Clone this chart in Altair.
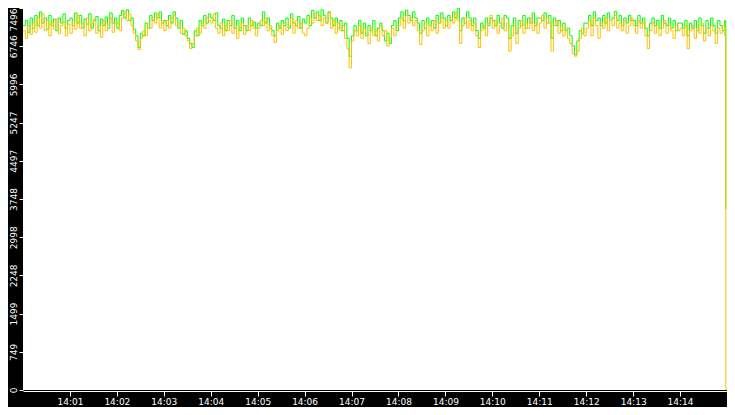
import altair as alt
import pandas as pd

# readings every 3 seconds from 14:00:00 (one row per minute)
orange_vals = [
    7050, 6900, 7150, 6980, 7200, 7020, 7300, 7100, 7380, 7050, 7250, 6950, 7200, 7080, 7280, 6990, 7150, 7220, 6950, 7180,
    7000, 7250, 7080, 7350, 7100, 7200, 6950, 7300, 7050, 7200, 7280, 7000, 7150, 6920, 7250, 7050, 7180, 7300, 7020, 7200,
    7200, 7050, 7300, 7420, 7250, 7380, 7150, 7000, 6850, 6680, 6900, 7050, 6950, 7200, 7100, 7300, 7200, 7380, 7100, 7250,
    7050, 7250, 7100, 7300, 7350, 7150, 7200, 7000, 7100, 6950, 6850, 6700, 6800, 6950, 7100, 7000, 7200, 7100, 7300, 7250,
    7200, 7380, 7100, 7000, 7200, 6950, 7150, 7050, 7250, 7000, 7150, 6900, 7100, 7200, 6980, 7150, 7050, 7250, 7100, 6950,
    7100, 7250, 7150, 7300, 7050, 7150, 6950, 6820, 7050, 7150, 6980, 7200, 7050, 7150, 7300, 7000, 7250, 7100, 7200, 7000,
    6950, 7100, 7300, 7200, 7380, 7250, 7350, 7150, 7300, 7200, 7400, 7100, 7250, 7000, 7200, 7050, 7150, 6900, 6700, 6320,
    6850, 7050, 6950, 7150, 6900, 7100, 7000, 6800, 7100, 6950, 7050, 6850, 7150, 6950, 7050, 6750, 6900, 7100, 6950, 7150,
    7150, 7300, 7100, 7350, 7200, 7300, 7150, 7250, 7050, 6780, 7050, 7200, 6950, 7150, 7050, 7250, 7000, 7200, 7300, 7100,
    7250, 7100, 7300, 7200, 7400, 7250, 6800, 7150, 7300, 7100, 7250, 7050, 7200, 6950, 6720, 7050, 7150, 6950, 7200, 7350,
    7100, 7250, 7000, 7150, 7300, 7050, 7200, 6650, 6950, 7150, 6800, 7100, 7250, 7000, 7200, 7100, 7300, 7050, 7200, 7000,
    7200, 7350, 7100, 7300, 7200, 6650, 7150, 7250, 7000, 7150, 6950, 7100, 6900, 6800, 6600, 6550, 6650, 6900, 7100, 6950,
    7100, 7250, 6950, 7300, 7150, 6900, 7200, 7100, 7300, 7050, 7250, 7150, 7350, 7100, 7200, 7050, 7250, 7000, 7150, 7300,
    7150, 7000, 7250, 7100, 7200, 6950, 6700, 7050, 7200, 7000, 7150, 6950, 7100, 7250, 7000, 7150, 7050, 6900, 7150, 7050,
    7100, 6950, 7150, 6700, 7050, 7150, 6900, 7100, 7000, 7200, 6850, 7100, 6950, 7150, 7050, 6800, 7100, 7000, 7150, 6950,
]
green_vals = [
    7150, 7250, 7020, 7300, 7100, 7350, 7150, 7420, 7200, 7300, 7080, 7350, 7150, 7280, 7050, 7300, 7200, 7380, 7100, 7250,
    7300, 7150, 7400, 7200, 7350, 7100, 7280, 7180, 7380, 7100, 7250, 7330, 7050, 7280, 7150, 7320, 7100, 7400, 7200, 7300,
    7100, 7350, 7450, 7300, 7460, 7250, 7300, 7080, 6950, 6720, 7000, 6950, 7200, 7100, 7350, 7250, 7400, 7300, 7420, 7200,
    7250, 7150, 7350, 7200, 7420, 7300, 7100, 7250, 6980, 7050, 6900, 6800, 6720, 7050, 6950, 7250, 7150, 7350, 7200, 7380,
    7300, 7250, 7400, 7150, 7100, 7280, 7050, 7250, 7150, 7350, 7100, 7250, 7050, 7300, 7150, 7050, 7300, 7150, 7220, 7100,
    7200, 7150, 7420, 7200, 7300, 7100, 7050, 6950, 7200, 7100, 7250, 7150, 7300, 7100, 7380, 7200, 7150, 7330, 7100, 7280,
    7200, 7350, 7150, 7450, 7300, 7420, 7250, 7460, 7350, 7200, 7420, 7300, 7150, 7300, 7100, 7250, 7050, 7200, 6900, 6550,
    6950, 7150, 7050, 7250, 7000, 7200, 6950, 7150, 7050, 7250, 6950, 7100, 7200, 7050, 6850, 7000, 6800, 7150, 7250, 7050,
    7300, 7420, 7250, 7450, 7350, 7250, 7420, 7300, 7200, 7000, 7250, 7100, 7300, 7150, 7250, 7100, 7350, 7200, 7400, 7300,
    7150, 7350, 7250, 7420, 7300, 7490, 7050, 7300, 7200, 7420, 7300, 7150, 7300, 7050, 6900, 7200, 7100, 7300, 7150, 7300,
    7250, 7150, 7350, 7200, 7100, 7350, 7300, 6900, 7150, 7300, 7000, 7250, 7150, 7350, 7100, 7300, 7200, 7400, 7150, 7300,
    7300, 7250, 7400, 7200, 7350, 6900, 7300, 7150, 7250, 7050, 7200, 7050, 7100, 6950, 6750, 6580, 6850, 7050, 7000, 7200,
    7200, 7350, 7150, 7420, 7250, 7300, 7150, 7350, 7200, 7400, 7250, 7300, 7430, 7250, 7350, 7150, 7300, 7200, 7350, 7250,
    7250, 7150, 7350, 7200, 7300, 7100, 6950, 7200, 7300, 7150, 7250, 7100, 7350, 7200, 7150, 7300, 7100, 7250, 7050, 7200,
    7200, 7100, 7250, 6950, 7200, 7100, 7250, 7050, 7300, 7150, 7000, 7250, 7100, 7300, 7150, 7000, 7250, 7150, 7050, 7250,
]
step_seconds = 3
final_time = 898.5
orange_final = 0
green_final = 3550

y_ticks = [0, 749.6, 1499.2, 2248.8, 2998.4, 3748, 4497.6, 5247.2, 5996.8, 6746.4, 7496]
x_ticks = [60, 120, 180, 240, 300, 360, 420, 480, 540, 600, 660, 720, 780, 840]

rows = []
for name, vals, last in (("green", green_vals, green_final), ("orange", orange_vals, orange_final)):
    for i, v in enumerate(vals):
        rows.append({"t": i * step_seconds, "v": v, "s": name})
    rows.append({"t": final_time, "v": last, "s": name})
df = pd.DataFrame(rows)

x_enc = alt.X("t:Q", scale=alt.Scale(domain=[0, 900], nice=False, zero=False),
              axis=alt.Axis(values=x_ticks, title=None, grid=False,
                            labelExpr="'14:' + (datum.value < 600 ? '0' : '') + format(datum.value / 60, 'd')",
                            domainColor="white", tickColor="white", tickSize=5, offset=1,
                            labelColor="white", labelFont="DejaVu Sans", labelFontSize=9,
                            labelPadding=1, labelFlush=False, labelOverlap=False))
y_enc = alt.Y("v:Q", scale=alt.Scale(domain=[0, 7496], nice=False),
              axis=alt.Axis(values=y_ticks, title=None, grid=False, domain=False,
                            labelExpr="floor(datum.value)", labelAngle=270,
                            labelAlign={"condition": {"test": "datum.value > 7400", "value": "right"},
                                        "value": "center"},
                            labelBaseline="bottom",
                            tickColor="white", tickSize=4, labelPadding=1,
                            labelColor="white", labelFont="DejaVu Sans", labelFontSize=9,
                            labelFlush=False, labelOverlap=False))

base = alt.Chart(df)
green = base.transform_filter("datum.s == 'green'").mark_line(
    color="#00ff00", strokeWidth=1, interpolate="step-after", clip=True
).encode(x=x_enc, y=y_enc)
orange = base.transform_filter("datum.s == 'orange'").mark_line(
    color="#ffc000", strokeWidth=1, interpolate="step-after", clip=True
).encode(x=x_enc, y=y_enc)

chart = alt.layer(green, orange).properties(
    width=704, height=382,
    autosize=alt.AutoSizeParams(type="none"),
    padding={"left": 15, "top": 0, "right": 0, "bottom": 17},
    background="black",
).configure_view(fill="white", strokeWidth=0)

chart.save("out.html", embed_options={"renderer": "svg", "actions": False})
